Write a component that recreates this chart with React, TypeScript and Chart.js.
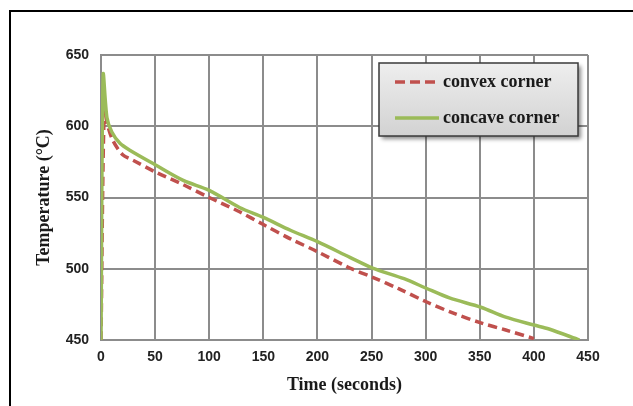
import React, { useEffect, useRef } from "react";
import { Chart, registerables } from "chart.js";

Chart.register(...registerables);

const convexTime = [0, 3, 6, 11, 20, 30, 50, 76, 100, 128, 150, 175, 200, 230, 251, 275, 300, 325, 351, 374, 400];
const convexTemp = [450, 612, 601, 590, 580, 576, 568, 559, 550, 540, 531, 521, 512, 500.5, 494, 486, 477, 469, 462, 457, 451];

const concaveTime = [0, 2, 5.5, 10, 17.5, 27, 50, 76, 100, 128, 150, 175, 200, 230, 251, 280, 300, 322, 351, 374, 400, 414, 442];
const concaveTemp = [450, 636, 606, 596, 588, 583, 573, 562, 555, 543, 536, 527, 519, 508, 500.5, 493, 486.5, 479.5, 473, 466, 460.5, 457.7, 450];

const seriesNames = ["convex corner", "concave corner"];
const xTitle = "Time (seconds)";
const yTitle = "Temperature (°C)";

const RED = "#C0504D";
const GREEN = "#9BBB59";

const legendPlugin = {
  id: "boxLegend",
  afterDraw(chart: any) {
    const ctx = chart.ctx;
    const x0 = 379, y0 = 63, w = 199, h = 73;
    ctx.save();
    ctx.shadowColor = "rgba(0,0,0,0.45)";
    ctx.shadowBlur = 4;
    ctx.shadowOffsetX = 3;
    ctx.shadowOffsetY = 3;
    const g = ctx.createLinearGradient(0, y0, 0, y0 + h);
    g.addColorStop(0, "#eeeeee");
    g.addColorStop(1, "#d2d2d2");
    ctx.fillStyle = g;
    ctx.fillRect(x0, y0, w, h);
    ctx.restore();
    ctx.save();
    ctx.strokeStyle = "#3a3a3a";
    ctx.lineWidth = 1.5;
    ctx.strokeRect(x0, y0, w, h);
    const rows = [
      { y: 82, color: RED, dash: [10, 5], label: seriesNames[0] },
      { y: 118, color: GREEN, dash: [], label: seriesNames[1] },
    ];
    for (const r of rows) {
      ctx.beginPath();
      ctx.setLineDash(r.dash);
      ctx.strokeStyle = r.color;
      ctx.lineWidth = 3.5;
      ctx.moveTo(395, r.y);
      ctx.lineTo(439, r.y);
      ctx.stroke();
      ctx.setLineDash([]);
      ctx.fillStyle = "#1a1a1a";
      ctx.font = "bold 18px 'Liberation Serif'";
      ctx.textBaseline = "middle";
      ctx.textAlign = "left";
      ctx.fillText(r.label, 443, r.y);
    }
    ctx.restore();
  },
};

export default function App() {
  const ref = useRef<HTMLCanvasElement>(null);
  useEffect(() => {
    const canvas = ref.current!;
    const chart = new Chart(canvas, {
      type: "line",
      data: {
        datasets: [
          {
            label: seriesNames[0],
            data: convexTime.map((t, i) => ({ x: t, y: convexTemp[i] })),
            borderColor: RED,
            borderWidth: 3.5,
            borderDash: [9, 5],
            pointRadius: 0,
            tension: 0.3,
            fill: false,
            order: 1,
          },
          {
            label: seriesNames[1],
            data: concaveTime.map((t, i) => ({ x: t, y: concaveTemp[i] })),
            borderColor: GREEN,
            borderWidth: 3.5,
            pointRadius: 0,
            tension: 0.3,
            fill: false,
            order: 0,
          },
        ],
      },
      options: {
        responsive: false,
        animation: false,
        events: [],
        layout: { padding: { left: 0, top: 55, right: 45, bottom: 0 } },
        plugins: { legend: { display: false }, tooltip: { enabled: false } },
        scales: {
          x: {
            type: "linear",
            min: 0,
            max: 450,
            ticks: {
              stepSize: 50,
              padding: 9,
              color: "#222",
              font: { family: "'Liberation Sans'", size: 14, weight: "bold" },
            },
            grid: { color: "#8c8c8c", lineWidth: 2, drawTicks: false },
            border: { color: "#8c8c8c", width: 2 },
            title: {
              display: true,
              text: xTitle,
              color: "#1a1a1a",
              font: { family: "'Liberation Serif'", size: 18, weight: "bold" },
              padding: { top: 0, bottom: 10 },
            },
            afterFit: (s: any) => { s.height = 66; },
          },
          y: {
            min: 450,
            max: 650,
            ticks: {
              stepSize: 50,
              padding: 12,
              color: "#222",
              font: { family: "'Liberation Sans'", size: 14, weight: "bold" },
            },
            grid: { color: "#8c8c8c", lineWidth: 2, drawTicks: false },
            border: { color: "#8c8c8c", width: 2 },
            title: {
              display: true,
              text: yTitle,
              color: "#1a1a1a",
              font: { family: "'Liberation Serif'", size: 18, weight: "bold" },
              padding: { top: 34, bottom: 0 },
            },
            afterFit: (s: any) => { s.width = 101; },
          },
        },
      },
      plugins: [legendPlugin],
    });
    return () => chart.destroy();
  }, []);
  return (
    <div style={{ position: "fixed", left: 0, top: 0, width: 633, height: 406, background: "#fff", overflow: "hidden" }}>
      <div style={{ position: "absolute", left: 9, top: 10, width: 700, height: 500, border: "2px solid #000" }} />
      <canvas ref={ref} width={633} height={406} style={{ position: "absolute", left: 0, top: 0, width: 633, height: 406 }} />
    </div>
  );
}
